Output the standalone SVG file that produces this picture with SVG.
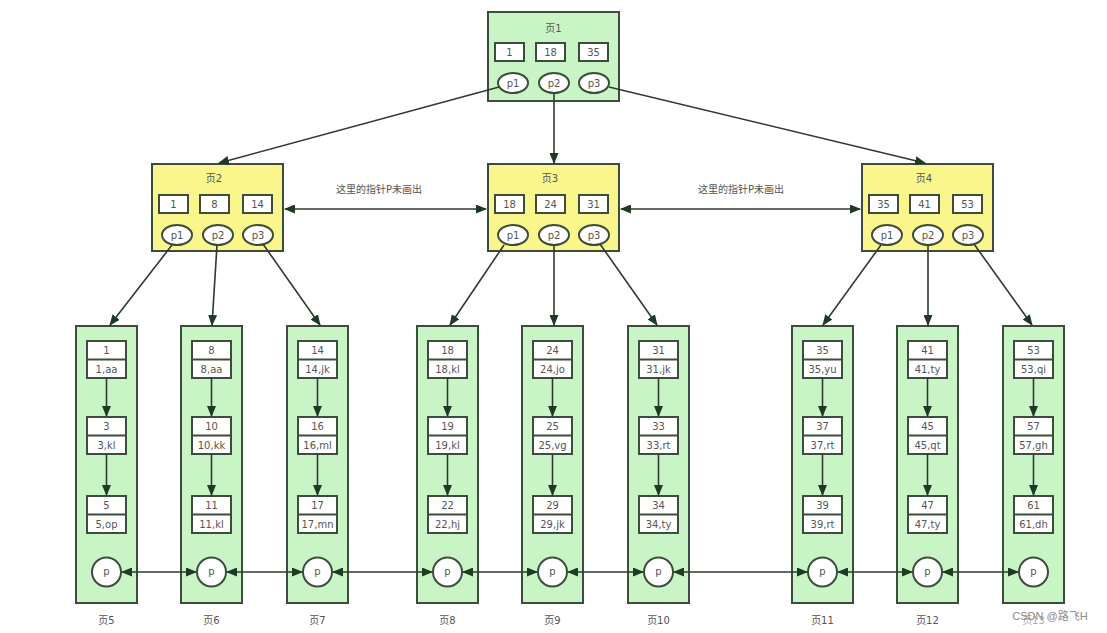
<svg xmlns="http://www.w3.org/2000/svg" width="1107" height="633" viewBox="0 0 1107 633">
<style>
.g{fill:#c9f5c6;stroke:#3d4d3d;stroke-width:2}
.y{fill:#fbf68c;stroke:#3d4d3d;stroke-width:2}
.k{fill:#fff;stroke:#3d4d3d;stroke-width:2}
.t{font-family:"DejaVu Sans","Noto Sans CJK SC",sans-serif;font-size:10px;fill:#555;text-anchor:middle}
.c{stroke:#2f3a2f;stroke-width:1.6;fill:none}
.a{marker-end:url(#ah)}
.d{marker-start:url(#ah);marker-end:url(#ah)}
</style>
<defs>
<marker id="ah" markerUnits="userSpaceOnUse" markerWidth="11" markerHeight="9" refX="10" refY="4.5" orient="auto-start-reverse"><path d="M0,0 L11,4.5 L0,9 z" fill="#1f3a24"/></marker>
<g id="inode">
<rect class="k" x="7" y="31" width="29" height="18"/>
<rect class="k" x="48" y="31" width="29" height="18"/>
<rect class="k" x="91" y="31" width="29" height="18"/>
<ellipse class="k" cx="25" cy="71" rx="15" ry="10"/>
<ellipse class="k" cx="66" cy="71" rx="15" ry="10"/>
<ellipse class="k" cx="106" cy="71" rx="15" ry="10"/>
<text class="t" x="25" y="71" dy="3.5">p1</text>
<text class="t" x="66" y="71" dy="3.5">p2</text>
<text class="t" x="106" y="71" dy="3.5">p3</text>
</g>
<g id="leaf">
<rect class="g" x="0" y="326" width="61" height="277"/>
<rect class="k" x="11" y="341" width="39" height="37"/><line class="k" x1="11" y1="359.5" x2="50" y2="359.5"/>
<rect class="k" x="11" y="417" width="39" height="37"/><line class="k" x1="11" y1="435.5" x2="50" y2="435.5"/>
<rect class="k" x="11" y="496" width="39" height="37"/><line class="k" x1="11" y1="514.5" x2="50" y2="514.5"/>
<line class="c a" x1="30.5" y1="378" x2="30.5" y2="416"/>
<line class="c a" x1="30.5" y1="454" x2="30.5" y2="495"/>
<circle class="k" cx="30.5" cy="572" r="14.5"/>
<text class="t" x="30.5" y="575">p</text>
</g>
</defs>

<g id="page1" transform="translate(488,12)">
<rect class="g" x="0" y="0" width="131" height="89"/>
<text class="t" x="65.5" y="20">页1</text>
<use href="#inode"/>
<text class="t" x="21.5" y="44">1</text><text class="t" x="62.5" y="44">18</text><text class="t" x="105.5" y="44">35</text>
</g>
<g id="page2" transform="translate(152,164)">
<rect class="y" x="0" y="0" width="131" height="87"/>
<text class="t" x="62" y="18">页2</text>
<use href="#inode"/>
<text class="t" x="21.5" y="44">1</text><text class="t" x="62.5" y="44">8</text><text class="t" x="105.5" y="44">14</text>
</g>
<g id="page3" transform="translate(488,164)">
<rect class="y" x="0" y="0" width="131" height="87"/>
<text class="t" x="62" y="18">页3</text>
<use href="#inode"/>
<text class="t" x="21.5" y="44">18</text><text class="t" x="62.5" y="44">24</text><text class="t" x="105.5" y="44">31</text>
</g>
<g id="page4" transform="translate(862,164)">
<rect class="y" x="0" y="0" width="131" height="87"/>
<text class="t" x="62" y="18">页4</text>
<use href="#inode"/>
<text class="t" x="21.5" y="44">35</text><text class="t" x="62.5" y="44">41</text><text class="t" x="105.5" y="44">53</text>
</g>

<g id="page5" transform="translate(76,0)"><use href="#leaf"/>
<text class="t" x="30.5" y="354">1</text><text class="t" x="30.5" y="373">1,aa</text>
<text class="t" x="30.5" y="430">3</text><text class="t" x="30.5" y="449">3,kl</text>
<text class="t" x="30.5" y="509">5</text><text class="t" x="30.5" y="528">5,op</text>
<text class="t" x="30.5" y="624">页5</text></g>
<g id="page6" transform="translate(181,0)"><use href="#leaf"/>
<text class="t" x="30.5" y="354">8</text><text class="t" x="30.5" y="373">8,aa</text>
<text class="t" x="30.5" y="430">10</text><text class="t" x="30.5" y="449">10,kk</text>
<text class="t" x="30.5" y="509">11</text><text class="t" x="30.5" y="528">11,kl</text>
<text class="t" x="30.5" y="624">页6</text></g>
<g id="page7" transform="translate(287,0)"><use href="#leaf"/>
<text class="t" x="30.5" y="354">14</text><text class="t" x="30.5" y="373">14,jk</text>
<text class="t" x="30.5" y="430">16</text><text class="t" x="30.5" y="449">16,ml</text>
<text class="t" x="30.5" y="509">17</text><text class="t" x="30.5" y="528">17,mn</text>
<text class="t" x="30.5" y="624">页7</text></g>
<g id="page8" transform="translate(417,0)"><use href="#leaf"/>
<text class="t" x="30.5" y="354">18</text><text class="t" x="30.5" y="373">18,kl</text>
<text class="t" x="30.5" y="430">19</text><text class="t" x="30.5" y="449">19,kl</text>
<text class="t" x="30.5" y="509">22</text><text class="t" x="30.5" y="528">22,hj</text>
<text class="t" x="30.5" y="624">页8</text></g>
<g id="page9" transform="translate(522,0)"><use href="#leaf"/>
<text class="t" x="30.5" y="354">24</text><text class="t" x="30.5" y="373">24,jo</text>
<text class="t" x="30.5" y="430">25</text><text class="t" x="30.5" y="449">25,vg</text>
<text class="t" x="30.5" y="509">29</text><text class="t" x="30.5" y="528">29,jk</text>
<text class="t" x="30.5" y="624">页9</text></g>
<g id="page10" transform="translate(628,0)"><use href="#leaf"/>
<text class="t" x="30.5" y="354">31</text><text class="t" x="30.5" y="373">31,jk</text>
<text class="t" x="30.5" y="430">33</text><text class="t" x="30.5" y="449">33,rt</text>
<text class="t" x="30.5" y="509">34</text><text class="t" x="30.5" y="528">34,ty</text>
<text class="t" x="30.5" y="624">页10</text></g>
<g id="page11" transform="translate(792,0)"><use href="#leaf"/>
<text class="t" x="30.5" y="354">35</text><text class="t" x="30.5" y="373">35,yu</text>
<text class="t" x="30.5" y="430">37</text><text class="t" x="30.5" y="449">37,rt</text>
<text class="t" x="30.5" y="509">39</text><text class="t" x="30.5" y="528">39,rt</text>
<text class="t" x="30.5" y="624">页11</text></g>
<g id="page12" transform="translate(897,0)"><use href="#leaf"/>
<text class="t" x="30.5" y="354">41</text><text class="t" x="30.5" y="373">41,ty</text>
<text class="t" x="30.5" y="430">45</text><text class="t" x="30.5" y="449">45,qt</text>
<text class="t" x="30.5" y="509">47</text><text class="t" x="30.5" y="528">47,ty</text>
<text class="t" x="30.5" y="624">页12</text></g>
<g id="page13" transform="translate(1003,0)"><use href="#leaf"/>
<text class="t" x="30.5" y="354">53</text><text class="t" x="30.5" y="373">53,qi</text>
<text class="t" x="30.5" y="430">57</text><text class="t" x="30.5" y="449">57,gh</text>
<text class="t" x="30.5" y="509">61</text><text class="t" x="30.5" y="528">61,dh</text>
<text class="t" x="30.5" y="624" fill-opacity="0.5">页13</text></g>

<g id="connectors">
<line class="c a" x1="499" y1="87" x2="219" y2="163"/>
<line class="c a" x1="554" y1="93" x2="554" y2="163"/>
<line class="c a" x1="609" y1="87" x2="925" y2="163"/>
<line class="c d" x1="285" y1="209" x2="486" y2="209"/>
<line class="c d" x1="621" y1="209" x2="860" y2="209"/>
<line class="c a" x1="172" y1="245" x2="110" y2="325"/>
<line class="c a" x1="217" y1="245" x2="212" y2="325"/>
<line class="c a" x1="263" y1="244" x2="320" y2="325"/>
<line class="c a" x1="504" y1="245" x2="450" y2="325"/>
<line class="c a" x1="554" y1="245" x2="554" y2="325"/>
<line class="c a" x1="600" y1="244" x2="657" y2="325"/>
<line class="c a" x1="881" y1="245" x2="823" y2="325"/>
<line class="c a" x1="928" y1="245" x2="928" y2="325"/>
<line class="c a" x1="974" y1="244" x2="1032" y2="325"/>
<line class="c d" x1="122" y1="572" x2="196" y2="572"/>
<line class="c d" x1="227" y1="572" x2="302" y2="572"/>
<line class="c d" x1="333" y1="572" x2="432" y2="572"/>
<line class="c d" x1="463" y1="572" x2="537" y2="572"/>
<line class="c d" x1="568" y1="572" x2="643" y2="572"/>
<line class="c d" x1="674" y1="572" x2="807" y2="572"/>
<line class="c d" x1="838" y1="572" x2="912" y2="572"/>
<line class="c d" x1="943" y1="572" x2="1018" y2="572"/>
<text class="t" x="379" y="193">这里的指针P未画出</text>
<text class="t" x="741" y="193">这里的指针P未画出</text>
</g>
<text x="1050" y="620" style="font-family:'Liberation Sans','Noto Sans CJK SC',sans-serif;font-size:11px;fill:#8a8a8a;text-anchor:middle">CSDN @路飞H</text>
</svg>
